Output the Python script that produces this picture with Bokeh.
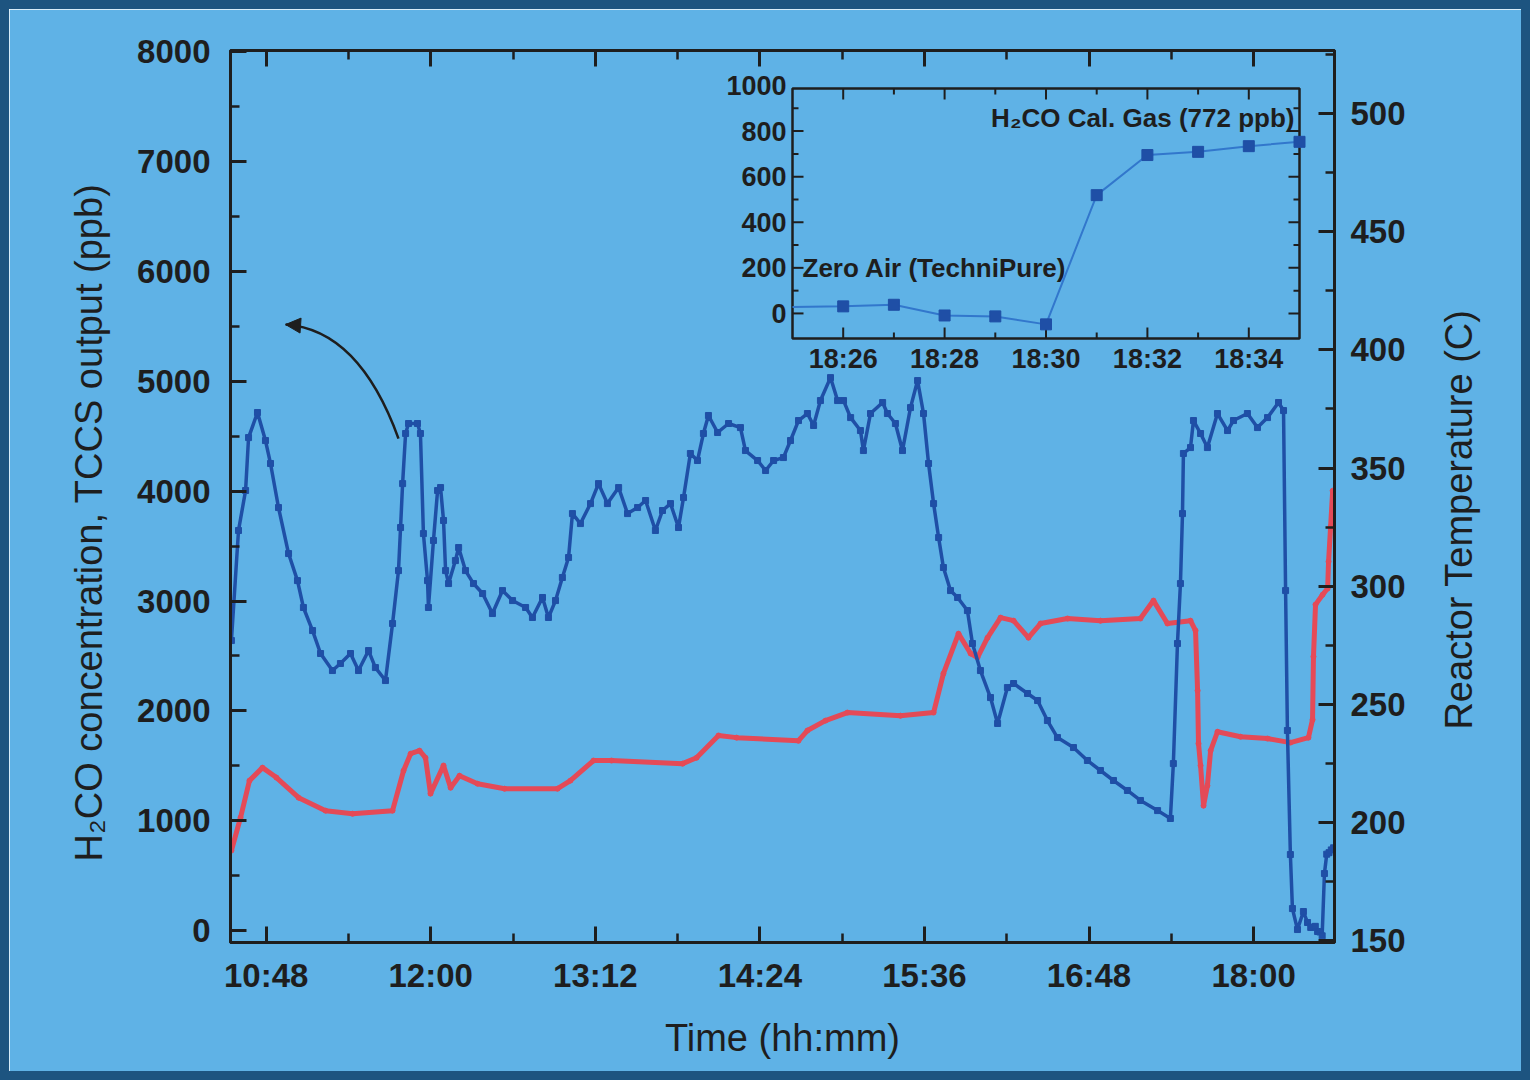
import math
from bokeh.plotting import figure
from bokeh.models import Range1d, LinearAxis, FixedTicker, Arrow, NormalHead
from bokeh.core.properties import value
from bokeh.embed import file_html
from bokeh.resources import INLINE


def clock_to_min(s):
    h, m = s.split(":")
    return int(h) * 60 + int(m)


# ---------------- data ----------------
time_tick_labels = ["10:48", "12:00", "13:12", "14:24", "15:36", "16:48", "18:00"]
ppb_ticks = [0, 1000, 2000, 3000, 4000, 5000, 6000, 7000, 8000]
ppb_minor = [500, 1500, 2500, 3500, 4500, 5500, 6500, 7500]
temp_ticks = [150, 200, 250, 300, 350, 400, 450, 500]
temp_minor = [175, 225, 275, 325, 375, 425, 475, 525]

# H2CO / TCCS output, minutes after midnight
blue_min = [
    632.8, 635.9, 639.0, 640.3, 644.2, 647.7, 649.9, 653.4, 657.8, 661.7,
    664.3, 668.3, 671.8, 677.0, 680.5, 684.9, 688.4, 692.8, 695.8, 700.2,
    703.3, 705.9, 706.8, 707.7, 709.0, 710.3, 714.2, 715.5, 716.8, 718.6,
    719.0, 721.2, 723.0, 724.3, 725.6, 726.5, 727.8, 730.8, 732.2, 735.2,
    738.7, 742.7, 747.0, 751.4, 755.8, 761.5, 764.5, 768.9, 771.5, 774.6,
    777.6, 780.3, 782.0, 785.5, 789.9, 793.4, 797.3, 802.2, 806.1, 810.5,
    814.0, 818.3, 821.4, 824.9, 828.4, 830.6, 833.6, 836.7, 839.3, 841.5,
    845.5, 850.3, 855.5, 857.7, 863.0, 866.5, 870.0, 874.3, 877.4, 880.9,
    884.8, 887.5, 890.5, 894.9, 898.0, 900.6, 903.7, 908.0, 909.3, 912.4,
    917.7, 919.8, 923.3, 926.4, 929.9, 933.0, 935.6, 937.8, 940.0, 942.2,
    944.3, 947.4, 950.5, 954.8, 957.0, 960.5, 964.9, 968.0, 972.3, 975.0,
    981.1, 985.5, 989.8, 994.2, 1001.2, 1007.3, 1013.0, 1018.7, 1024.8, 1030.5,
    1038.0, 1043.6, 1044.9, 1046.7, 1048.0, 1048.9, 1049.3, 1052.4, 1053.7, 1056.8,
    1059.8, 1064.2, 1068.6, 1071.2, 1077.3, 1081.7, 1086.1, 1090.9, 1093.1, 1094.0,
    1094.8, 1096.1, 1097.0, 1099.2, 1101.8, 1103.6,
]
blue_ppb = [
    2640, 3642, 4006, 4488, 4716, 4461, 4252, 3851, 3432, 3186,
    2941, 2731, 2522, 2367, 2431, 2522, 2367, 2549, 2394, 2276,
    2795, 3277, 3669, 4069, 4525, 4616, 4616, 4525, 3614, 3186,
    2941, 3551, 4006, 4033, 3733, 3277, 3159, 3368, 3487, 3277,
    3159, 3068, 2886, 3095, 3004, 2941, 2850, 3032, 2850, 3004,
    3214, 3396, 3796, 3705, 3887, 4069, 3887, 4033, 3796, 3851,
    3915, 3642, 3824, 3887, 3669, 3942, 4343, 4279, 4525, 4689,
    4534, 4616, 4579, 4370, 4279, 4188, 4279, 4306, 4461, 4643,
    4707, 4598, 4825, 5034, 4825, 4825, 4670, 4552, 4370, 4707,
    4807, 4707, 4616, 4370, 4761, 5007, 4707, 4252, 3887, 3578,
    3305, 3095, 3032, 2913, 2613, 2367, 2121, 1885, 2212, 2249,
    2158, 2094, 1912, 1757, 1666, 1548, 1457, 1366, 1275, 1184,
    1092, 1020, 1520, 2613, 3159, 3796, 4343, 4397, 4643, 4525,
    4397, 4707, 4552, 4643, 4707, 4579, 4670, 4807, 4734, 3095,
    1821, 692, 200, 9, 173, 73,
]

# reactor temperature (C)
red_min = [
    632.8, 636.8, 640.7, 646.4, 652.5, 662.2, 674.0, 685.8, 703.3, 708.1,
    711.2, 715.1, 717.7, 719.9, 725.6, 728.7, 732.6, 740.5, 752.3, 775.5,
    781.1, 791.2, 799.1, 830.2, 836.3, 845.9, 853.8, 880.9, 884.8, 892.7,
    902.3, 925.5, 940.0, 944.3, 950.9, 956.2, 959.2, 963.6, 969.3, 975.0,
    981.5, 986.8, 998.6, 1013.0, 1030.5, 1036.2, 1042.3, 1052.4, 1054.6, 1055.5,
    1055.9, 1056.8, 1058.1, 1059.8, 1061.2, 1064.2, 1074.3, 1086.1, 1096.1, 1104.0,
    1105.8, 1106.2, 1107.1, 1110.2, 1112.4, 1112.8, 1113.7, 1114.6,
]
red_temp = [
    188.1, 202.1, 217.7, 223.2, 219.0, 210.5, 205.0, 203.7, 205.0, 221.9,
    229.1, 230.4, 227.4, 212.2, 224.1, 214.7, 219.8, 216.4, 214.3, 214.3,
    217.7, 226.2, 226.2, 224.9, 227.4, 236.8, 235.9, 234.6, 238.9, 243.1,
    246.5, 245.2, 246.5, 263.0, 279.9, 271.5, 269.8, 278.2, 286.7, 285.4,
    278.2, 284.2, 286.3, 285.4, 286.3, 293.9, 284.2, 285.4, 281.2, 255.8,
    233.4, 224.1, 207.1, 215.6, 230.4, 238.4, 236.3, 235.5, 233.8, 235.9,
    243.5, 270.2, 292.2, 296.4, 299.0, 310.4, 325.2, 340.4,
]

# calibration detail (inset)
inset_time = ["18:25", "18:26", "18:27", "18:28", "18:29", "18:30",
              "18:31", "18:32", "18:33", "18:34", "18:35"]
inset_ppb = [28, 31, 38, -9, -13, -48, 519, 695, 709, 734, 753]
inset_tick_labels = ["18:26", "18:28", "18:30", "18:32", "18:34"]
inset_minor_labels = ["18:27", "18:29", "18:31", "18:33"]
inset_y_ticks = [0, 200, 400, 600, 800, 1000]
inset_y_minor = [100, 300, 500, 700, 900]

left_title = "H\u2082CO concentration, TCCS output (ppb)"
right_title = "Reactor Temperature (C)"

# ---------------- layout / style ----------------
W, H = 1530, 1080
EDGE_W = 9                      # dark page edge (CSS border, canvas sits inside it)

# frame and inset boxes in page pixels
PF_L, PF_R, PF_T, PF_B = 230, 1334, 50, 942
PI_L, PI_R, PI_T, PI_B = 792, 1299, 88, 338
FRAME_L, FRAME_R, FRAME_T, FRAME_B = (PF_L - EDGE_W, PF_R - EDGE_W,
                                      PF_T - EDGE_W, PF_B - EDGE_W)

X_RANGE = (632.4, 1115.4)
PPB_RANGE = (-109, 8012)
TEMP_RANGE = (149.2, 526.7)
INSET_X = (clock_to_min("18:25"), clock_to_min("18:35"))
INSET_Y = (-110, 987)

# vertical title centres (page pixels)
LEFT_TITLE_C = (88, 522)
RIGHT_TITLE_C = (1458, 519)

BG = "#5fb2e6"
EDGE = "#1d5480"
INK = "#1e1e1e"
BLUE = "#1f4fa6"
RED = "#e44a57"
INSET_LINE = "#3277cc"
FONT = "Liberation Sans"


def page_x_to_min(x):
    lo, hi = X_RANGE
    return lo + (x - PF_L) * (hi - lo) / (PF_R - PF_L)


def page_y_to_ppb(y):
    lo, hi = PPB_RANGE
    return hi - (y - PF_T) * (hi - lo) / (PF_B - PF_T)


# inset drawn inside the main frame through extra ranges
ix_per_px = (INSET_X[1] - INSET_X[0]) / (PI_R - PI_L)
iy_per_px = (INSET_Y[1] - INSET_Y[0]) / (PI_B - PI_T)
ix_range = Range1d(INSET_X[0] - (PI_L - PF_L) * ix_per_px,
                   INSET_X[1] + (PF_R - PI_R) * ix_per_px)
iy_range = Range1d(INSET_Y[0] - (PF_B - PI_B) * iy_per_px,
                   INSET_Y[1] + (PI_T - PF_T) * iy_per_px)

p = figure(width=W, height=H,
           x_range=Range1d(*X_RANGE), y_range=Range1d(*PPB_RANGE),
           output_backend="svg", toolbar_location=None,
           background_fill_color=BG, border_fill_color=BG,
           min_border_left=FRAME_L, min_border_right=W - FRAME_R,
           min_border_top=FRAME_T, min_border_bottom=H - FRAME_B,
           outline_line_color=INK, outline_line_width=3)
p.grid.visible = False
p.extra_y_ranges = {"temp": Range1d(*TEMP_RANGE), "iy": iy_range}
p.extra_x_ranges = {"ix": ix_range}
p.styles = {"border": f"{EDGE_W}px solid {EDGE}"}


def style_axis(ax, standoff, label_standoff):
    ax.axis_line_width = 3
    ax.axis_line_color = INK
    ax.major_tick_in = 16
    ax.major_tick_out = 0
    ax.minor_tick_in = 9
    ax.minor_tick_out = 0
    ax.major_tick_line_width = 3
    ax.minor_tick_line_width = 2.5
    ax.major_tick_line_color = INK
    ax.minor_tick_line_color = INK
    ax.major_label_text_font = FONT
    ax.major_label_text_font_style = "bold"
    ax.major_label_text_font_size = "33px"
    ax.major_label_text_color = INK
    ax.major_label_standoff = standoff
    ax.axis_label_text_font = FONT
    ax.axis_label_text_font_style = "normal"
    ax.axis_label_text_font_size = "38px"
    ax.axis_label_text_color = INK
    ax.axis_label_standoff = label_standoff


time_ticks = [clock_to_min(s) for s in time_tick_labels]
time_minor = [(a + b) / 2 for a, b in zip(time_ticks[:-1], time_ticks[1:])]
time_ticker = FixedTicker(ticks=time_ticks, minor_ticks=time_minor)

xax = p.xaxis[0]
xax.ticker = time_ticker
xax.major_label_overrides = {t: s for t, s in zip(time_ticks, time_tick_labels)}
xax.axis_label = "Time (hh:mm)"
style_axis(xax, 14, 20)

yax = p.yaxis[0]
yax.ticker = FixedTicker(ticks=ppb_ticks, minor_ticks=ppb_minor)
style_axis(yax, 20, 25)

rax = LinearAxis(y_range_name="temp",
                 ticker=FixedTicker(ticks=temp_ticks, minor_ticks=temp_minor))
style_axis(rax, 16, 48)
p.add_layout(rax, "right")

tax = LinearAxis(ticker=time_ticker)
style_axis(tax, 0, 0)
tax.major_label_text_color = None
tax.major_label_text_font_size = "1px"
p.add_layout(tax, "above")

# vertical titles, both reading bottom to top, drawn on the overlay level
for title, (cx, cy) in [(left_title, LEFT_TITLE_C), (right_title, RIGHT_TITLE_C)]:
    p.text(x=[page_x_to_min(cx)], y=[page_y_to_ppb(cy)], text=[title],
           angle=math.pi / 2, text_align="center", text_baseline="middle",
           text_font=value(FONT), text_font_size="38px", text_color=INK,
           level="overlay")

# ---------------- main series ----------------
blue_all_min = blue_min + [clock_to_min(s) for s in inset_time]
blue_all_ppb = blue_ppb + inset_ppb

p.line(red_min, red_temp, y_range_name="temp", line_color=RED, line_width=5,
       line_join="round")
p.scatter(red_min, red_temp, y_range_name="temp", marker="circle", size=5,
          fill_color=RED, line_color=RED)

p.line(blue_all_min, blue_all_ppb, line_color=BLUE, line_width=3.5, line_join="round")
p.scatter(blue_all_min, blue_all_ppb, marker="square", size=6,
          fill_color=BLUE, line_color=BLUE)

# curved pointer towards the left axis
ARROW_TAIL = (705.9, 4479)
ARROW_CTRL = (688.6, 5471)
ARROW_TIP = (656.5, 5517)
p.quadratic(x0=[ARROW_TAIL[0]], y0=[ARROW_TAIL[1]], x1=[ARROW_TIP[0]], y1=[ARROW_TIP[1]],
            cx=[ARROW_CTRL[0]], cy=[ARROW_CTRL[1]], line_color=INK, line_width=2.5)
head_from = (ARROW_TIP[0] + 0.15 * (ARROW_CTRL[0] - ARROW_TIP[0]),
             ARROW_TIP[1] + 0.15 * (ARROW_CTRL[1] - ARROW_TIP[1]))
p.add_layout(Arrow(end=NormalHead(size=15, fill_color=INK, line_color=INK),
                   x_start=head_from[0], y_start=head_from[1],
                   x_end=ARROW_TIP[0], y_end=ARROW_TIP[1],
                   line_color=INK, line_width=2.5))

# ---------------- inset ----------------
IR = dict(x_range_name="ix", y_range_name="iy")
x0i, x1i = INSET_X
y0i, y1i = INSET_Y

p.quad(left=[x0i], right=[x1i], bottom=[y0i], top=[y1i], fill_color=None,
       line_color=INK, line_width=2.5, **IR)

itx = [clock_to_min(s) for s in inset_tick_labels]
itx_minor = [clock_to_min(s) for s in inset_minor_labels]
MAJ, MIN = 11, 6
seg_x0, seg_x1, seg_y0, seg_y1 = [], [], [], []
for t, L in [(t, MAJ) for t in itx] + [(t, MIN) for t in itx_minor]:
    seg_x0 += [t, t]
    seg_x1 += [t, t]
    seg_y0 += [y0i, y1i]
    seg_y1 += [y0i + L * iy_per_px, y1i - L * iy_per_px]
for v, L in [(v, MAJ) for v in inset_y_ticks if v < y1i] + [(v, MIN) for v in inset_y_minor]:
    seg_x0 += [x0i, x1i]
    seg_x1 += [x0i + L * ix_per_px, x1i - L * ix_per_px]
    seg_y0 += [v, v]
    seg_y1 += [v, v]
p.segment(seg_x0, seg_y0, seg_x1, seg_y1, line_color=INK, line_width=2, **IR)

p.text(x=itx, y=[y0i - 5 * iy_per_px] * len(itx), text=inset_tick_labels,
       text_font=value(FONT), text_font_style="bold", text_font_size="27px",
       text_color=INK, text_align="center", text_baseline="top", **IR)
p.text(x=[x0i - 6 * ix_per_px] * len(inset_y_ticks), y=inset_y_ticks,
       text=[str(v) for v in inset_y_ticks],
       text_font=value(FONT), text_font_style="bold", text_font_size="27px",
       text_color=INK, text_align="right", text_baseline="middle", **IR)

imin = [clock_to_min(s) for s in inset_time]
p.line(imin, inset_ppb, line_color=INSET_LINE, line_width=2, **IR)
p.scatter(imin[1:], inset_ppb[1:], marker="square", size=11,
          fill_color=BLUE, line_color=BLUE, **IR)

p.text(x=[x0i + 10 * ix_per_px], y=[200], text=["Zero Air (TechniPure)"],
       text_font=value(FONT), text_font_style="bold", text_font_size="26px",
       text_color=INK, text_align="left", text_baseline="middle", **IR)
p.text(x=[x1i - 5 * ix_per_px], y=[y1i - 29 * iy_per_px],
       text=["H\u2082CO Cal. Gas (772 ppb)"],
       text_font=value(FONT), text_font_style="bold", text_font_size="26px",
       text_color=INK, text_align="right", text_baseline="middle", **IR)

open("out.html", "w").write(file_html(p, INLINE))
